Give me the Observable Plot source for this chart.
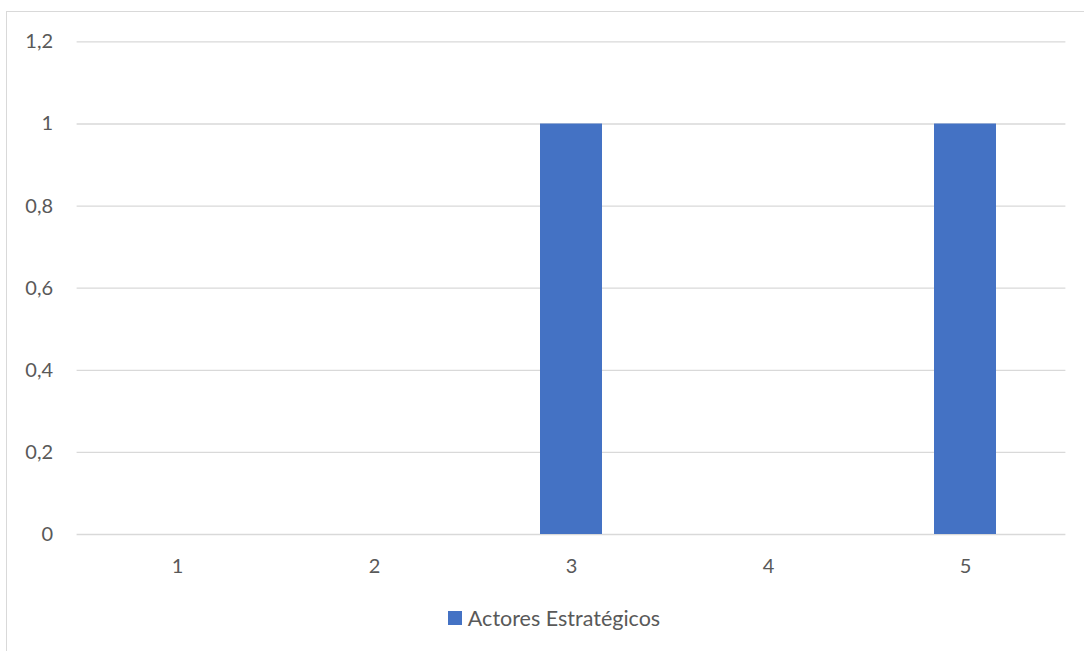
<!DOCTYPE html>
<html>
<head>
<meta charset="utf-8">
<script src="https://cdn.jsdelivr.net/npm/d3@7"></script>
<script src="https://cdn.jsdelivr.net/npm/@observablehq/plot@0.6"></script>
<style>
  html, body { margin: 0; padding: 0; background: #fff; }
  #wrap { position: relative; width: 1084px; height: 651px; overflow: hidden; font-family: Lato, "Open Sans", sans-serif; }
  #frame { position: absolute; left: 6px; top: 11px; width: 1200px; height: 800px; border: 1.5px solid #d9d9d9; box-sizing: border-box; }
  #chart { position: absolute; left: 0; top: 0; }
  #legend { position: absolute; left: 12px; top: 605px; width: 1084px; display: flex; justify-content: center; align-items: center; color: #595959; font-size: 21.5px; }
  #legend .sw { width: 14px; height: 14px; background: #4472C4; margin-right: 6px; }
</style>
</head>
<body>
<div id="wrap">
  <div id="frame"></div>
  <div id="chart"></div>
  <div id="legend"></div>
</div>
<script>
const categories = ["1", "2", "3", "4", "5"];
const values = [0, 0, 1, 0, 1];
const yTicks = [0, 0.2, 0.4, 0.6, 0.8, 1, 1.2];
const seriesName = "Actores Estratégicos";

const data = categories.map((c, i) => ({category: c, value: values[i]}));
const fmt = d => String(d).replace(".", ",");

const pad = 0.6865;
const chart = Plot.plot({
  width: 1084,
  height: 595,
  marginLeft: 76.6,
  marginRight: 18.6,
  marginTop: 41.4,
  marginBottom: 61,
  style: {fontFamily: "Lato, 'Open Sans', sans-serif", fontSize: "20px", color: "#595959", background: "transparent"},
  x: {domain: categories, paddingInner: pad, paddingOuter: pad / 2, label: null, tickSize: 0, tickPadding: 24},
  y: {domain: [0, 1.2], ticks: yTicks, tickFormat: fmt, label: null, tickSize: 0, tickPadding: 24},
  marks: [
    Plot.ruleY(yTicks, {stroke: "#d9d9d9", strokeWidth: 1.3}),
    Plot.barY(data, {x: "category", y: "value", fill: "#4472C4"}),
    Plot.axisY({ticks: yTicks, tickFormat: fmt, tickSize: 0, tickPadding: 24, label: null, fill: "#595959"}),
    Plot.axisX({tickSize: 0, tickPadding: 24, label: null, fill: "#595959"})
  ]
});
document.getElementById("chart").appendChild(chart);

const legend = document.getElementById("legend");
const sw = document.createElement("span");
sw.className = "sw";
const lbl = document.createElement("span");
lbl.textContent = seriesName;
legend.appendChild(sw);
legend.appendChild(lbl);
</script>
</body>
</html>
